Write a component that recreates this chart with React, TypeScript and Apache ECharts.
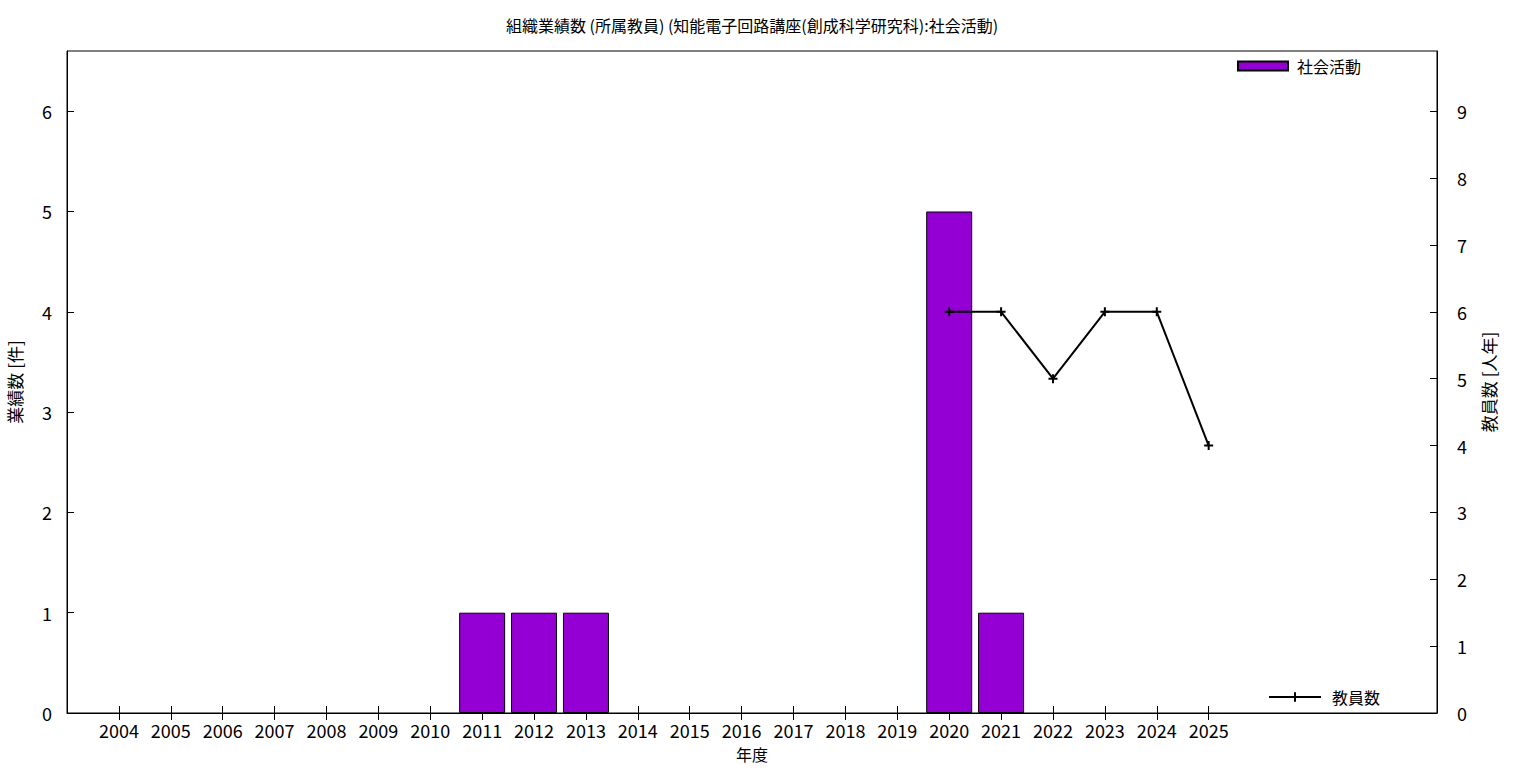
import React, { useEffect, useRef } from "react";
import * as echarts from "echarts";

const years = [2004, 2005, 2006, 2007, 2008, 2009, 2010, 2011, 2012, 2013, 2014, 2015, 2016, 2017, 2018, 2019, 2020, 2021, 2022, 2023, 2024, 2025];
const activityCounts = [0, 0, 0, 0, 0, 0, 0, 1, 1, 1, 0, 0, 0, 0, 0, 0, 5, 1, 0, 0, 0, 0];
const staffYears = [2020, 2021, 2022, 2023, 2024, 2025];
const staffCounts = [6, 6, 5, 6, 6, 4];
const leftTicks = [0, 1, 2, 3, 4, 5, 6];
const rightTicks = [0, 1, 2, 3, 4, 5, 6, 7, 8, 9];
const titleText = "組織業績数 (所属教員) (知能電子回路講座(創成科学研究科):社会活動)";

const FONT = "'Noto Sans CJK JP', 'Noto Sans', sans-serif";

export default function App() {
  const ref = useRef<HTMLDivElement>(null);
  useEffect(() => {
    if (!ref.current) return;
    const chart = echarts.init(ref.current, undefined, { renderer: "svg" });
    const plus = "path://M0,5L10,5M5,0L5,10";
    chart.setOption({
      animation: false,
      backgroundColor: "#fff",
      textStyle: { fontFamily: FONT },
      graphic: [
        {
          type: "text",
          x: 752,
          y: 25,
          style: { text: titleText, fontFamily: FONT, fontSize: 16, fill: "#000", align: "center", verticalAlign: "middle" },
        },
      ],
      grid: {
        left: 67,
        right: 99,
        top: 51,
        bottom: 55,
        containLabel: false,
        outerBoundsMode: "none",
        show: true,
        borderColor: "#000",
        borderWidth: 1,
        backgroundColor: "transparent",
      },
      legend: [
        {
          data: [{ name: "社会活動", icon: "rect" }],
          left: 1237,
          top: 58,
          itemWidth: 50,
          itemHeight: 9,
          padding: 0,
          textStyle: { fontFamily: FONT, fontSize: 16, color: "#000", padding: [0, 0, 0, 4] },
        },
        {
          data: ["教員数"],
          left: 1268,
          top: 689,
          itemWidth: 52,
          itemHeight: 12,
          padding: 0,
          textStyle: { fontFamily: FONT, fontSize: 16, color: "#000", padding: [0, 0, 0, 6] },
        },
      ],
      xAxis: [
        {
          type: "value",
          min: 2003,
          max: 2029.4,
          interval: 1,
          name: "年度",
          nameLocation: "middle",
          nameGap: 33,
          nameTextStyle: { fontFamily: FONT, fontSize: 16, color: "#000" },
          axisLine: { show: true, lineStyle: { color: "#000", width: 1 } },
          axisTick: { show: true, inside: true, length: 7, customValues: years, lineStyle: { color: "#000" } },
          axisLabel: { customValues: years, color: "#000", fontSize: 18, fontFamily: FONT, margin: 8, formatter: (v: number) => String(v) },
          splitLine: { show: false },
        },
        {
          type: "value",
          position: "top",
          min: 2003,
          max: 2029.4,
          interval: 1,
          axisLine: { show: false },
          axisTick: { show: true, inside: true, length: 7, customValues: years, lineStyle: { color: "#000" } },
          axisLabel: { show: false },
          splitLine: { show: false },
        },
      ],
      yAxis: [
        {
          type: "value",
          min: 0,
          max: 6.6,
          interval: 1,
          name: "業績数 [件]",
          nameLocation: "middle",
          nameRotate: 90,
          nameGap: 44,
          nameTextStyle: { fontFamily: FONT, fontSize: 17, color: "#000" },
          axisLine: { show: true, lineStyle: { color: "#000" } },
          axisTick: { show: true, inside: true, length: 7, customValues: leftTicks, lineStyle: { color: "#000" } },
          axisLabel: { customValues: leftTicks, color: "#000", fontSize: 18, fontFamily: FONT, margin: 15 },
          splitLine: { show: false },
        },
        {
          type: "value",
          min: 0,
          max: 9.9,
          interval: 1,
          position: "right",
          name: "教員数 [人年]",
          nameLocation: "middle",
          nameRotate: 90,
          nameGap: 43,
          nameTextStyle: { fontFamily: FONT, fontSize: 17, color: "#000" },
          axisLine: { show: true, lineStyle: { color: "#000" } },
          axisTick: { show: true, inside: true, length: 7, customValues: rightTicks, lineStyle: { color: "#000" } },
          axisLabel: { customValues: rightTicks, color: "#000", fontSize: 18, fontFamily: FONT, margin: 20 },
          splitLine: { show: false },
        },
      ],
      series: [
        {
          name: "社会活動",
          type: "bar",
          xAxisIndex: 0,
          yAxisIndex: 0,
          barWidth: 46,
          data: years.map((y, i) => [y, activityCounts[i]]).filter((d) => d[1] !== 0),
          itemStyle: { color: "#9400D3", borderColor: "#000", borderWidth: 1 },
        },
        {
          name: "教員数",
          type: "line",
          xAxisIndex: 0,
          yAxisIndex: 1,
          data: staffYears.map((y, i) => [y, staffCounts[i]]),
          symbol: plus,
          symbolSize: 9,
          showSymbol: true,
          lineStyle: { color: "#000", width: 2 },
          itemStyle: { color: "#000", borderColor: "#000", borderWidth: 2 },
        },
      ],
    });
    return () => chart.dispose();
  }, []);
  return <div ref={ref} style={{ width: 1536, height: 768, position: "absolute", left: 0, top: 0 }} />;
}
